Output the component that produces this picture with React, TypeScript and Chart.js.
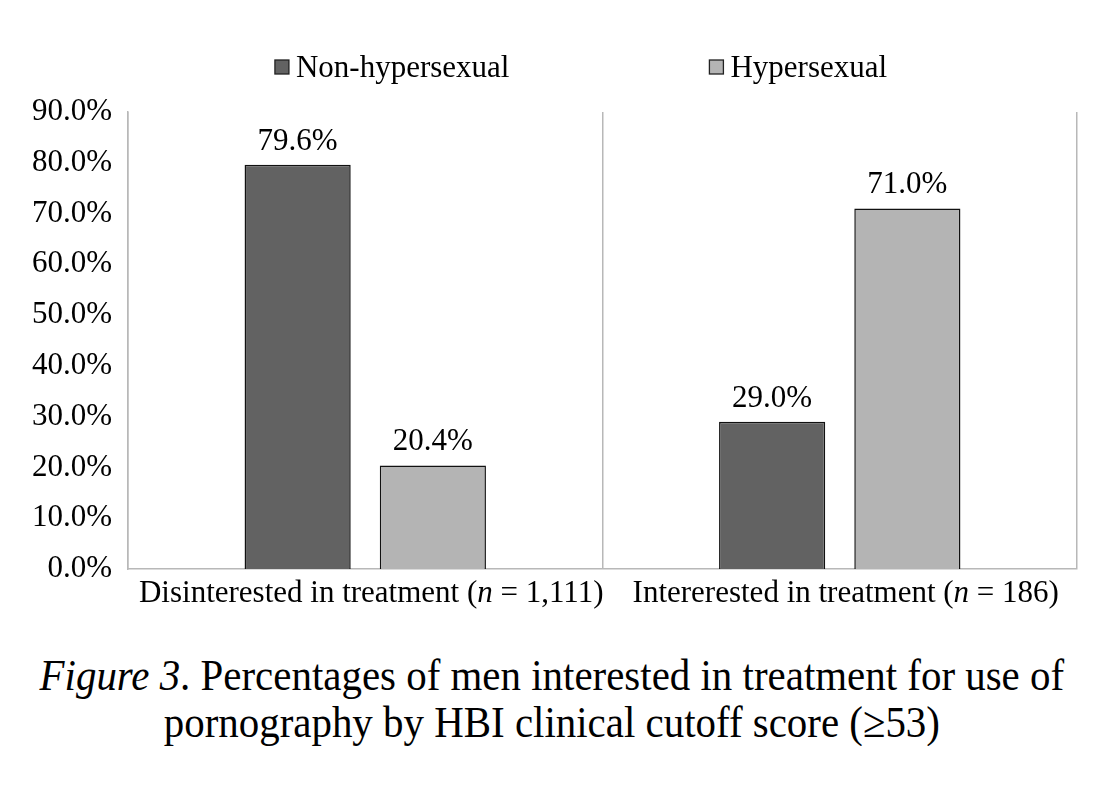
import React, { useEffect, useRef } from "react";
import { Chart, registerables } from "chart.js";

Chart.register(...registerables);

const categories = [
  "Disinterested in treatment (n = 1,111)",
  "Intererested in treatment (n = 186)",
];
const seriesNames = ["Non-hypersexual", "Hypersexual"];
const nonHypersexual = [79.6, 29.0];
const hypersexual = [20.4, 71.0];
const seriesColors = ["#626262", "#b4b4b4"];
const yMin = 0;
const yMax = 90;
const yStep = 10;

const FONT = "'Liberation Serif', 'Times New Roman', serif";
const FS = 31;

const customPlugin = {
  id: "custom",
  afterDraw(chart: any) {
    const ctx = chart.ctx;
    const area = chart.chartArea;
    ctx.save();
    // value labels
    ctx.font = `${FS}px ${FONT}`;
    ctx.fillStyle = "#000";
    ctx.textAlign = "center";
    ctx.textBaseline = "alphabetic";
    chart.data.datasets.forEach((ds: any, di: number) => {
      const meta = chart.getDatasetMeta(di);
      meta.data.forEach((el: any, i: number) => {
        const v = ds.data[i];
        ctx.fillText(v.toFixed(1) + "%", el.x, el.y - 15);
      });
    });
    // category labels with italic n
    const xs = chart.scales.x;
    chart.data.labels.forEach((lab: string, i: number) => {
      const cx = xs.getPixelForValue(i) + 6;
      const idx = lab.indexOf("(n ");
      const parts =
        idx >= 0
          ? [
              { t: lab.slice(0, idx + 1), it: false },
              { t: "n", it: true },
              { t: lab.slice(idx + 2), it: false },
            ]
          : [{ t: lab, it: false }];
      let total = 0;
      parts.forEach((p) => {
        ctx.font = `${p.it ? "italic " : ""}${FS}px ${FONT}`;
        total += ctx.measureText(p.t).width;
      });
      let x = cx - total / 2;
      ctx.textAlign = "left";
      parts.forEach((p) => {
        ctx.font = `${p.it ? "italic " : ""}${FS}px ${FONT}`;
        ctx.fillText(p.t, x, area.bottom + 33);
        x += ctx.measureText(p.t).width;
      });
    });
    // legend
    ctx.font = `${FS}px ${FONT}`;
    const box = 14;
    const gapText = 7;
    const gapItems = 200;
    const items = chart.data.datasets.map((ds: any) => ({
      label: ds.label,
      color: ds.backgroundColor,
      w: box + gapText + ctx.measureText(ds.label).width,
    }));
    const totalW =
      items.reduce((s: number, it: any) => s + it.w, 0) +
      gapItems * (items.length - 1);
    let lx = 573 - totalW / 2;
    const ly = 59;
    items.forEach((it: any) => {
      ctx.fillStyle = it.color;
      ctx.fillRect(lx, ly - box / 2, box, box);
      ctx.strokeStyle = "#222";
      ctx.lineWidth = 1.3;
      ctx.strokeRect(lx, ly - box / 2, box, box);
      ctx.fillStyle = "#000";
      ctx.textAlign = "left";
      ctx.fillText(it.label, lx + box + gapText, ly + 10);
      lx += it.w + gapItems;
    });
    ctx.restore();
  },
};

export default function App() {
  const ref = useRef<HTMLCanvasElement>(null);
  useEffect(() => {
    if (!ref.current) return;
    const chart = new Chart(ref.current, {
      type: "bar",
      data: {
        labels: categories,
        datasets: [
          {
            label: seriesNames[0],
            data: nonHypersexual,
            backgroundColor: seriesColors[0],
            borderColor: "#111",
            borderWidth: 1.5,
            categoryPercentage: 0.57,
            barPercentage: 0.785,
          },
          {
            label: seriesNames[1],
            data: hypersexual,
            backgroundColor: seriesColors[1],
            borderColor: "#111",
            borderWidth: 1.5,
            categoryPercentage: 0.57,
            barPercentage: 0.785,
          },
        ],
      },
      options: {
        responsive: false,
        animation: false,
        layout: { padding: { top: 104, right: 35, left: 0, bottom: 0 } },
        plugins: {
          legend: { display: false },
          tooltip: { enabled: false },
        },
        scales: {
          x: {
            grid: {
              display: true,
              offset: true,
              color: "#b8b8b8",
              lineWidth: 1.5,
              drawTicks: false,
            },
            border: { display: true, color: "#b8b8b8", width: 1.5 },
            ticks: { display: false },
            afterFit: (s: any) => {
              s.height = 59;
            },
          },
          y: {
            min: yMin,
            max: yMax,
            grid: { display: false, drawTicks: false },
            border: { display: true, color: "#b8b8b8", width: 1.5 },
            ticks: {
              stepSize: yStep,
              padding: 16,
              color: "#000",
              font: { family: FONT, size: FS },
              callback: (v: any) => Number(v).toFixed(1) + "%",
            },
            afterFit: (s: any) => {
              s.width = 120;
            },
          },
        },
      },
      plugins: [customPlugin],
    });
    return () => chart.destroy();
  }, []);

  return (
    <div>
      <div style={{ width: 1104, height: 620 }}>
        <canvas ref={ref} width={1104} height={620} />
      </div>
      <div
        style={{
          width: 1104,
          marginTop: 24,
          textAlign: "center",
          fontFamily: FONT,
          fontSize: 44,
          lineHeight: "47px",
          color: "#000",
        }}
      >
        <div style={{ display: "inline-block", transform: "scaleX(0.93)", whiteSpace: "nowrap", marginLeft: -16 }}>
          <i>Figure 3</i>. Percentages of men interested in treatment for use of
          <br />
          pornography by HBI clinical cutoff score (≥53)
        </div>
      </div>
    </div>
  );
}
